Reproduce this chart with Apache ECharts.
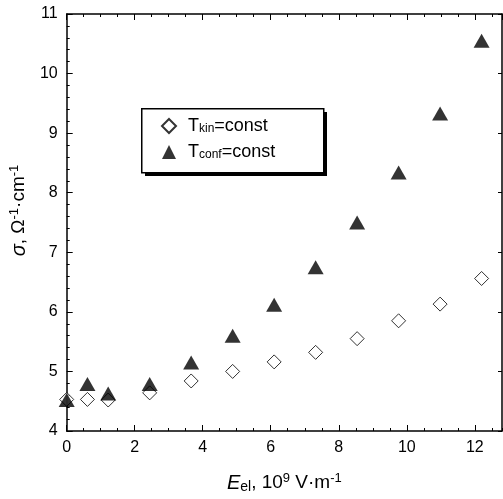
<!DOCTYPE html>
<html>
<head>
<meta charset="utf-8">
<script src="https://cdn.jsdelivr.net/npm/echarts@6/dist/echarts.min.js"></script>
<style>
  html, body { margin: 0; padding: 0; background: #fff; }
  #chart { width: 503px; height: 499px; }
</style>
</head>
<body>
<div id="chart"></div>
<script>
// field strength, 10^9 V/m
const fieldValues = [0, 0.61, 1.22, 2.44, 3.66, 4.88, 6.10, 7.32, 8.54, 9.76, 10.98, 12.20];
// conductivity, 1/(Ohm cm)
const sigmaKin = [4.53, 4.53, 4.52, 4.64, 4.84, 5.00, 5.16, 5.32, 5.55, 5.85, 6.13, 6.56];
const sigmaConf = [4.52, 4.79, 4.63, 4.79, 5.15, 5.60, 6.12, 6.75, 7.50, 8.34, 9.33, 10.55];
const seriesNames = ["kin", "conf"];

const font = "Liberation Sans";
const black = "#000";

const chart = echarts.init(document.getElementById("chart"));

const toPairs = (xs, ys) => xs.map((x, i) => [x, ys[i]]);

const nameRich = {
  n: { fontFamily: font, fontSize: 19, color: black, lineHeight: 22, verticalAlign: "middle" },
  i: { fontFamily: font, fontSize: 20, color: black, fontStyle: "italic", lineHeight: 22, verticalAlign: "middle" },
  sup: { fontFamily: font, fontSize: 13, color: black, verticalAlign: "top", lineHeight: 13 },
  sub: { fontFamily: font, fontSize: 14, color: black, verticalAlign: "bottom", lineHeight: 13 },
};

const xBase = { min: 0, max: 12.8, splitLine: { show: false } };
const yBase = { min: 4, max: 11, interval: 1, splitLine: { show: false } };
const line = { show: true, onZero: false, lineStyle: { color: black, width: 1.5 } };
const noLine = { show: false };

const options = {
  animation: false,
  grid: { left: 66, right: 1, top: 14, bottom: 66 },
  // legend frame with its hard drop shadow
  graphic: [
    { type: "rect", left: 145, top: 112, z: 10, shape: { width: 182, height: 64 }, style: { fill: black } },
    { type: "rect", left: 141, top: 108, z: 11, shape: { width: 182, height: 64 }, style: { fill: "#fff", stroke: black, lineWidth: 1.5 } },
  ],
  xAxis: [
    {
      ...xBase,
      type: "value",
      position: "bottom",
      interval: 2,
      axisLine: line,
      axisTick: { inside: true, length: 6, lineStyle: { color: black } },
      axisLabel: { fontFamily: font, fontSize: 16, color: black, margin: 9, showMaxLabel: false },
      name: "{i|E}{sub|el}{n|, 10}{sup|9}{n| V·m}{sup|-1}",
      nameLocation: "middle",
      nameGap: 41,
      nameTextStyle: { rich: nameRich },
    },
    {
      ...xBase,
      type: "value",
      position: "bottom",
      interval: 0.5,
      axisLine: noLine,
      axisTick: { inside: true, length: 3, lineStyle: { color: black } },
      axisLabel: { show: false },
    },
    {
      ...xBase,
      type: "value",
      position: "top",
      interval: 2,
      axisLine: line,
      axisTick: { inside: true, length: 6, lineStyle: { color: black } },
      axisLabel: { show: false },
    },
    {
      ...xBase,
      type: "value",
      position: "top",
      interval: 0.5,
      axisLine: noLine,
      axisTick: { inside: true, length: 3, lineStyle: { color: black } },
      axisLabel: { show: false },
    },
  ],
  yAxis: [
    {
      ...yBase,
      type: "value",
      position: "left",
      axisLine: line,
      axisTick: { inside: true, length: 6, lineStyle: { color: black } },
      minorTick: { show: true, splitNumber: 5, length: 3, lineStyle: { color: black } },
      axisLabel: { fontFamily: font, fontSize: 16, color: black, margin: 9 },
      name: "{i|σ}{n|, Ω}{sup|-1}{n|·cm}{sup|-1}",
      nameLocation: "middle",
      nameGap: 26,
      nameTextStyle: { rich: nameRich, padding: [0, 0, 0, 24] },
    },
    {
      ...yBase,
      type: "value",
      position: "right",
      axisLine: line,
      axisTick: { inside: true, length: 4, lineStyle: { color: black } },
      axisLabel: { show: false },
    },
  ],
  legend: {
    orient: "vertical",
    left: 141,
    top: 108,
    z: 12,
    padding: [9, 40, 9, 20],
    itemGap: 8,
    itemWidth: 14,
    itemHeight: 14,
    data: seriesNames,
    formatter: (name) => `{t|T}{s|${name}}{t|=const}`,
    textStyle: {
      padding: [0, 0, 0, 7],
      rich: {
        t: { fontFamily: font, fontSize: 18, color: black, verticalAlign: "bottom", lineHeight: 18 },
        s: { fontFamily: font, fontSize: 12, color: black, verticalAlign: "bottom", lineHeight: 15 },
      },
    },
  },
  series: [
    {
      name: seriesNames[0],
      type: "scatter",
      xAxisIndex: 0,
      yAxisIndex: 0,
      data: toPairs(fieldValues, sigmaKin),
      symbol: "diamond",
      symbolSize: 14,
      itemStyle: { color: "#fff", borderColor: black, borderWidth: 1 },
      z: 3,
    },
    {
      name: seriesNames[1],
      type: "scatter",
      xAxisIndex: 0,
      yAxisIndex: 0,
      data: toPairs(fieldValues, sigmaConf),
      symbol: "triangle",
      symbolSize: [16, 14],
      itemStyle: { color: black },
      z: 4,
    },
  ],
};

chart.setOption(options);
</script>
</body>
</html>
